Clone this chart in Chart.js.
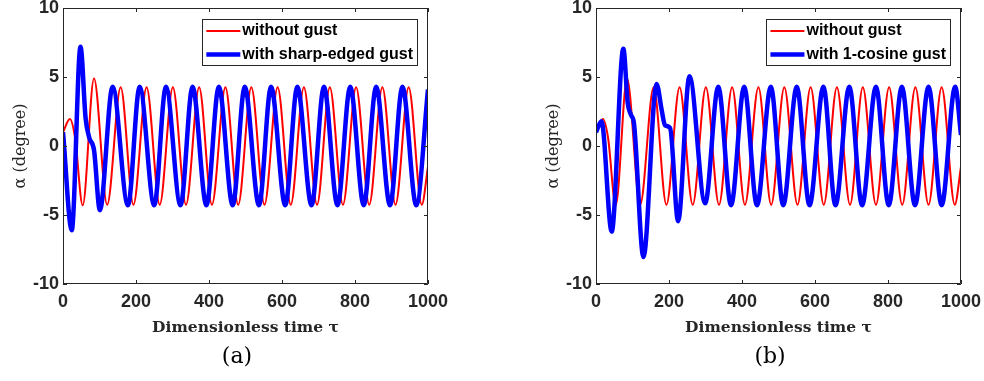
<!DOCTYPE html>
<html>
<head>
<meta charset="utf-8">
<script src="https://cdn.jsdelivr.net/npm/chart.js@4.4.0/dist/chart.umd.min.js"></script>
<style>
    html, body { margin: 0; padding: 0; background: #fff; }
    body { width: 984px; height: 381px; position: relative; overflow: hidden; }
    .panel { position: absolute; top: 0; width: 492px; height: 381px; }
    .caption {
        position: absolute; top: 345px;
        font: 22px/22px "DejaVu Serif", serif; color: #000;
        transform: translateX(-50%);
    }
</style>
</head>
<body>
<div class="panel" style="left:0"><canvas id="chartA"></canvas></div>
<div class="panel" style="left:492px"><canvas id="chartB"></canvas></div>
<div class="caption" style="left:237px">(a)</div>
<div class="caption" style="left:770px">(b)</div>
<script>
// Values: tau (dimensionless time) and alpha (degree)
const tauTicks = [0, 200, 400, 600, 800, 1000];
const alphaTicks = [-10, -5, 0, 5, 10];

// without gust (same curve in both panels)
const noGustTau = [0, 19, 33, 54, 85, 121, 158, 193, 229, 265, 301, 337, 373, 408, 445,
    480, 516, 552, 588, 624, 660, 696, 731, 767, 803, 839, 875, 911, 947, 983, 1000];
const noGustAlpha = [1.0, 1.95, 0.6, -4.3, 4.9, -4.25, 4.25, -4.25, 4.25, -4.25, 4.25, -4.25, 4.25, -4.25, 4.25,
    -4.25, 4.25, -4.25, 4.25, -4.25, 4.25, -4.25, 4.25, -4.25, 4.25, -4.25, 4.25, -4.25, 4.25, -4.25, -1.5];

// (a) with sharp-edged gust
const sharpTau = [0, 24, 48, 62, 72, 85, 101, 136, 178, 210, 250, 282, 322, 355, 393, 427,
    465, 498, 537, 570, 609, 642, 681, 715, 752, 787, 824, 858, 896, 930, 968, 1000];
const sharpAlpha = [1.0, -6.1, 7.2, 2.0, 0.6, -0.3, -4.65, 4.3, -4.3, 4.3, -4.3, 4.3, -4.3, 4.3, -4.3, 4.3,
    -4.3, 4.3, -4.3, 4.3, -4.3, 4.3, -4.3, 4.3, -4.3, 4.3, -4.3, 4.3, -4.3, 4.3, -4.3, 4.1];

// (b) with 1-cosine gust
const cosineTau = [0, 15, 43, 75, 87, 96, 104, 130, 166, 180, 189, 203, 225, 256,
    299, 335, 370, 406, 441, 479, 513, 550, 585, 623, 656, 694, 729, 767, 802, 838, 874, 911, 947, 984, 1000];
const cosineAlpha = [1.0, 1.8, -6.2, 7.05, 3.1, 2.25, 1.65, -8.05, 4.5, 2.6, 1.5, 1.3, -5.45, 5.05,
    -4.15, 4.3, -4.3, 4.3, -4.3, 4.3, -4.3, 4.3, -4.3, 4.3, -4.3, 4.3, -4.3, 4.3, -4.3, 4.3, -4.3, 4.3, -4.3, 4.3, 0.8];

const legendA = ['without gust', 'with sharp-edged gust'];
const legendB = ['without gust', 'with 1-cosine gust'];

const axisColor = '#262626';
const tickFont = { family: '"Liberation Sans", Arial, sans-serif', size: 18, weight: 'bold' };

function toPoints(taus, alphas) {
    return taus.map((t, i) => ({ x: t, y: alphas[i] }));
}

// MATLAB-style box with inward ticks on all four sides
const framePlugin = {
    id: 'frame',
    afterDraw(chart) {
        const { ctx, chartArea: a, scales: { x, y } } = chart;
        const len = 4;
        ctx.save();
        ctx.strokeStyle = axisColor;
        ctx.lineWidth = 1;
        ctx.beginPath();
        ctx.rect(a.left + 0.5, a.top + 0.5, a.right - a.left - 1, a.bottom - a.top - 1);
        x.ticks.forEach(t => {
            const px = Math.round(x.getPixelForValue(t.value)) + 0.5;
            ctx.moveTo(px, a.bottom); ctx.lineTo(px, a.bottom - len);
            ctx.moveTo(px, a.top); ctx.lineTo(px, a.top + len);
        });
        y.ticks.forEach(t => {
            const py = Math.round(y.getPixelForValue(t.value)) + 0.5;
            ctx.moveTo(a.left, py); ctx.lineTo(a.left + len, py);
            ctx.moveTo(a.right, py); ctx.lineTo(a.right - len, py);
        });
        ctx.stroke();
        ctx.restore();
    }
};

// Legend in a bordered box at the top right of the axes
const boxLegendPlugin = {
    id: 'boxLegend',
    afterDraw(chart) {
        const { ctx, chartArea: a } = chart;
        const sets = chart.data.datasets;
        ctx.save();
        ctx.font = 'bold 16px "Liberation Sans", Arial, sans-serif';
        const textW = Math.max(...sets.map(d => ctx.measureText(d.label).width));
        const right = a.right - 11;
        const left = right - (4 + 34 + 2 + textW + 4);
        const top = 19, height = 46;
        ctx.fillStyle = '#fff';
        ctx.fillRect(left, top, right - left, height);
        ctx.strokeStyle = axisColor;
        ctx.lineWidth = 1;
        ctx.strokeRect(Math.round(left) + 0.5, top + 0.5, Math.round(right - left), height);
        const rows = [top + 12, top + 35.5];
        sets.forEach((d, i) => {
            ctx.strokeStyle = d.borderColor;
            ctx.lineWidth = d.borderWidth;
            ctx.beginPath();
            ctx.moveTo(left + 4, rows[i]);
            ctx.lineTo(left + 38, rows[i]);
            ctx.stroke();
            ctx.fillStyle = '#000';
            ctx.textBaseline = 'middle';
            ctx.fillText(d.label, left + 40, rows[i]);
        });
        ctx.restore();
    }
};

function makePanel(id, blueTau, blueAlpha, labels, yWidth, padRight, yTitlePad) {
    const ctx = document.getElementById(id);
    return new Chart(ctx, {
        type: 'line',
        data: {
            datasets: [{
                label: labels[0],
                data: toPoints(noGustTau, noGustAlpha),
                borderColor: '#ff0000',
                borderWidth: 2,
                order: 1
            }, {
                label: labels[1],
                data: toPoints(blueTau, blueAlpha),
                borderColor: '#0000ff',
                borderWidth: 4.5,
                order: 0
            }]
        },
        options: {
            responsive: true,
            maintainAspectRatio: false,
            animation: false,
            events: [],
            layout: { padding: { left: 0, right: padRight, top: 8, bottom: 0 } },
            elements: {
                point: { radius: 0 },
                line: { cubicInterpolationMode: 'monotone', fill: false }
            },
            plugins: {
                legend: { display: false },
                tooltip: { enabled: false }
            },
            scales: {
                x: {
                    type: 'linear',
                    min: 0,
                    max: 1000,
                    grid: { display: false, drawTicks: false },
                    border: { display: false },
                    afterBuildTicks: s => { s.ticks = tauTicks.map(v => ({ value: v })); },
                    afterFit: s => { s.height = 97; s.paddingLeft = 0; s.paddingRight = 0; },
                    ticks: {
                        padding: 7,
                        maxRotation: 0,
                        font: tickFont,
                        color: axisColor,
                        callback: v => String(v)
                    },
                    title: {
                        display: true,
                        text: 'Dimensionless time τ',
                        color: axisColor,
                        font: { family: '"DejaVu Serif", serif', size: 15.5, weight: 'bold' },
                        padding: { top: 0, bottom: 44 }
                    }
                },
                y: {
                    type: 'linear',
                    min: -10,
                    max: 10,
                    grid: { display: false, drawTicks: false },
                    border: { display: false },
                    afterBuildTicks: s => { s.ticks = alphaTicks.map(v => ({ value: v })); },
                    afterFit: s => { s.width = yWidth; s.paddingTop = 0; s.paddingBottom = 0; },
                    ticks: {
                        padding: 4,
                        font: tickFont,
                        color: axisColor,
                        callback: v => String(v)
                    },
                    title: {
                        display: true,
                        text: 'α (degree)',
                        color: axisColor,
                        font: { family: '"DejaVu Serif", serif', size: 16, weight: 'normal' },
                        padding: { top: yTitlePad, bottom: 0 }
                    }
                }
            }
        },
        plugins: [framePlugin, boxLegendPlugin]
    });
}

makePanel('chartA', sharpTau, sharpAlpha, legendA, 63, 64, 11.4);
makePanel('chartB', cosineTau, cosineAlpha, legendB, 104, 23, 52.4);
</script>
</body>
</html>
